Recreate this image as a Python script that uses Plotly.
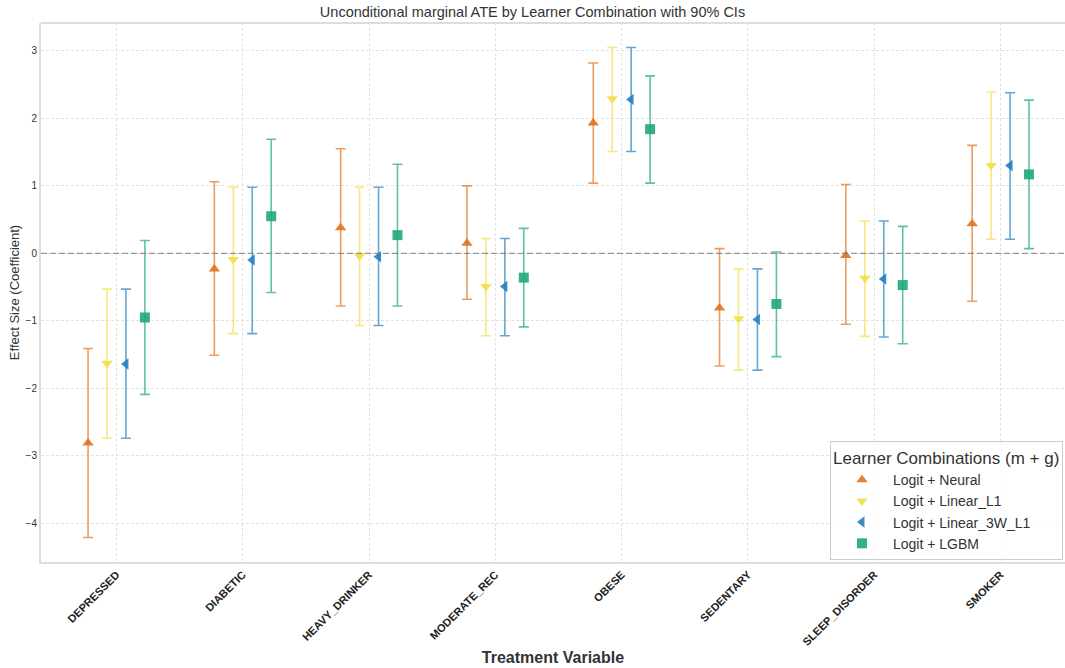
import plotly.graph_objects as go

treatments = ["DEPRESSED", "DIABETIC", "HEAVY_DRINKER", "MODERATE_REC",
              "OBESE", "SEDENTARY", "SLEEP_DISORDER", "SMOKER"]

series_names = ["Logit + Neural", "Logit + Linear_L1", "Logit + Linear_3W_L1", "Logit + LGBM"]

neural_est = [-2.81, -0.23, 0.38, 0.15, 1.93, -0.81, -0.03, 0.44]
neural_lo = [-4.21, -1.51, -0.78, -0.68, 1.04, -1.67, -1.05, -0.71]
neural_hi = [-1.41, 1.06, 1.55, 1.00, 2.82, 0.07, 1.02, 1.60]

l1_est = [-1.63, -0.09, -0.04, -0.49, 2.29, -0.97, -0.37, 1.30]
l1_lo = [-2.74, -1.19, -1.07, -1.22, 1.51, -1.73, -1.23, 0.21]
l1_hi = [-0.53, 0.98, 0.98, 0.22, 3.05, -0.23, 0.48, 2.39]

l3w_est = [-1.64, -0.10, -0.05, -0.49, 2.28, -0.98, -0.38, 1.30]
l3w_lo = [-2.74, -1.19, -1.07, -1.22, 1.51, -1.73, -1.24, 0.21]
l3w_hi = [-0.53, 0.98, 0.98, 0.22, 3.05, -0.23, 0.48, 2.38]

lgbm_est = [-0.95, 0.55, 0.27, -0.36, 1.84, -0.75, -0.47, 1.17]
lgbm_lo = [-2.09, -0.58, -0.78, -1.09, 1.04, -1.53, -1.34, 0.07]
lgbm_hi = [0.19, 1.69, 1.32, 0.37, 2.63, 0.02, 0.40, 2.27]

ests = [neural_est, l1_est, l3w_est, lgbm_est]
los = [neural_lo, l1_lo, l3w_lo, lgbm_lo]
his = [neural_hi, l1_hi, l3w_hi, lgbm_hi]

offsets = [-0.225, -0.075, 0.075, 0.225]
symbols = ["triangle-up", "triangle-down", "triangle-left", "square"]
marker_colors = ["rgba(226,115,30,0.9)", "rgba(244,222,70,0.9)", "rgba(36,128,192,0.9)", "rgba(32,168,120,0.9)"]
bar_colors = ["rgba(226,115,30,0.7)", "rgba(244,222,70,0.7)", "rgba(36,128,192,0.7)", "rgba(32,168,120,0.7)"]

FONT = "Liberation Sans, Arial, Helvetica, sans-serif"

fig = go.Figure()
for i, name in enumerate(series_names):
    xs = [k + offsets[i] for k in range(len(treatments))]
    e = ests[i]
    fig.add_trace(go.Scatter(
        x=xs, y=e, mode="markers", name=name,
        marker=dict(symbol=symbols[i], size=10, color=marker_colors[i], line=dict(width=0)),
        error_y=dict(type="data", symmetric=False,
                     array=[h - v for h, v in zip(his[i], e)],
                     arrayminus=[v - l for v, l in zip(e, los[i])],
                     color=bar_colors[i], thickness=1.6, width=5),
    ))

fig.add_hline(y=0, line=dict(color="rgba(120,120,120,0.75)", width=1.3, dash="6px,3px"))

# top spine
fig.add_shape(type="line", xref="paper", yref="paper", x0=0, x1=1, y0=1, y1=1,
              line=dict(color="#dddddd", width=2))

fig.update_layout(
    width=1065, height=668,
    margin=dict(l=41, r=0, t=23, b=106),
    paper_bgcolor="white", plot_bgcolor="white",
    font=dict(family=FONT, color="#333333"),
    title=dict(text="Unconditional marginal ATE by Learner Combination with 90% CIs",
               x=0.5, xanchor="center", y=0.982, yanchor="middle",
               font=dict(size=14.5, color="#333333", family=FONT)),
    showlegend=True,
    legend=dict(
        title=dict(text="Learner Combinations (m + g)", font=dict(size=17, color="#333333")),
        font=dict(size=14, color="#333333"),
        x=0.7705, xanchor="left", y=0.2245, yanchor="top",
        bgcolor="rgba(255,255,255,0.85)", bordercolor="#cccccc", borderwidth=1,
        itemwidth=52,
    ),
    xaxis=dict(
        range=[-0.5975, 7.51],
        tickmode="array", tickvals=list(range(len(treatments))),
        ticktext=["<b>" + t + "</b>" for t in treatments],
        tickangle=-45, tickfont=dict(size=11, color="#222222"),
        showgrid=True, gridcolor="#e2e2e2", griddash="3px,2px", gridwidth=1,
        showline=True, linecolor="#dddddd", linewidth=2,
        zeroline=False, ticks="",
        title=dict(text="<b>Treatment Variable</b>", font=dict(size=16, color="#333333"), standoff=5),
    ),
    yaxis=dict(
        range=[-4.573, 3.413],
        tickmode="array", tickvals=[-4, -3, -2, -1, 0, 1, 2, 3],
        ticktext=["\u22124", "\u22123", "\u22122", "\u22121", "0", "1", "2", "3"],
        tickfont=dict(size=10, color="#333333"),
        showgrid=True, gridcolor="#e2e2e2", griddash="3px,2px", gridwidth=1,
        showline=True, linecolor="#dddddd", linewidth=2,
        zeroline=False, ticks="",
        title=dict(text="Effect Size (Coefficient)", font=dict(size=13, color="#333333"), standoff=3),
    ),
)

fig.write_html("out.html",
               config={"displayModeBar": False},
               post_script="document.body.style.margin='0';document.body.style.overflow='hidden';")
